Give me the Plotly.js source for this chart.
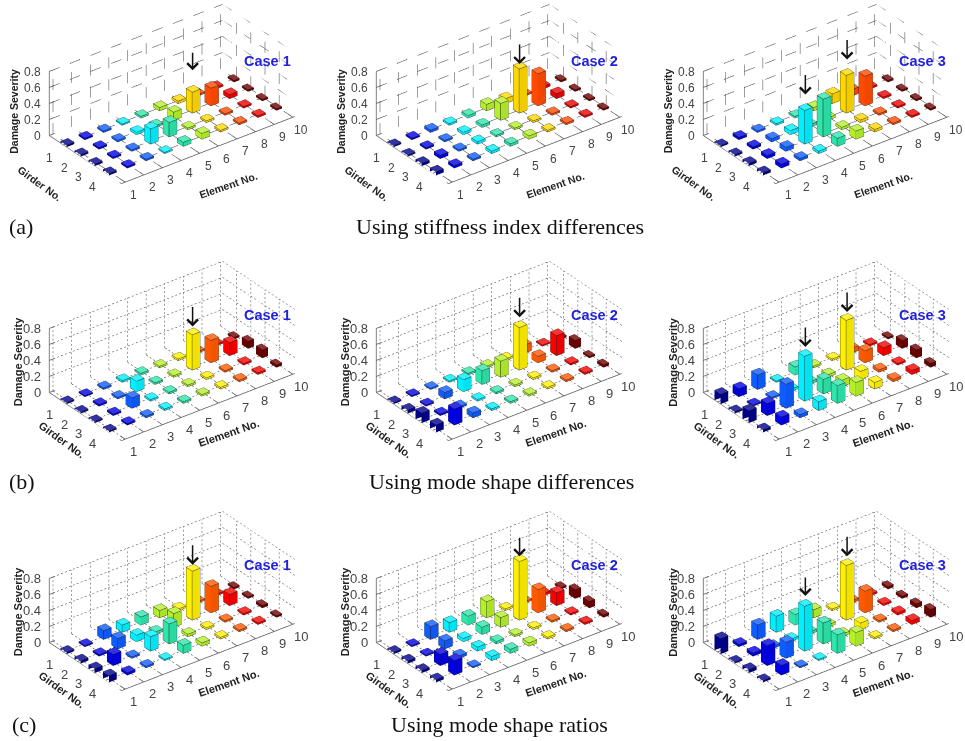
<!DOCTYPE html>
<html><head><meta charset="utf-8">
<script src="https://cdn.plot.ly/plotly-3.0.1.min.js"></script>
<style>html,body{margin:0;padding:0;background:#fff}#c{width:965px;height:741px}</style>
</head><body><div id="c"></div>
<script>
// values: one row per girder (1..4), one column per element (1..10)
const a1=[[.02,.02,.02,.015,.02,.04,.03,.02,.02,.02],[.02,.02,.02,.03,.02,.1,.26,.22,.05,.02],[.02,.02,.02,.19,.18,.02,.02,.02,.02,.02],[.02,.02,.02,.015,.05,.07,.02,.02,.02,.02]];
const a2=[[.015,.02,.03,.02,.03,.08,.06,.02,.03,.02],[.015,.02,.02,.03,.03,.21,.55,.4,.06,.02],[.03,.04,.02,.03,.02,.02,.02,.02,.02,.02],[.04,.03,.02,.03,.03,.04,.02,.02,.02,.02]];
const a3=[[.015,.03,.02,.02,.02,.04,.12,.08,.02,.02],[.02,.03,.04,.05,.03,.03,.47,.37,.02,.02],[.03,.04,.05,.42,.47,.03,.03,.02,.02,.02],[.03,.05,.03,.03,.1,.1,.03,.02,.02,.02]];
const b1=[[.015,.015,.02,.02,.02,.02,.02,.02,.02,.02],[.015,.02,.02,.13,.02,.02,.44,.28,.16,.09],[.015,.02,.13,.02,.02,.02,.02,.02,.02,.1],[.015,.02,.02,.02,.02,.02,.02,.02,.02,.03]];
const b2=[[.015,.015,.015,.015,.02,.02,.02,.1,.015,.02],[.04,.015,.08,.15,.17,.2,.53,.08,.25,.1],[.12,.02,.02,.02,.02,.02,.02,.02,.02,.02],[.09,.2,.06,.02,.02,.02,.02,.02,.02,.03]];
const b3=[[.12,.1,.18,.015,.1,.02,.02,.06,.02,.02],[.02,.015,.02,.03,.03,.03,.62,.15,.1,.1],[.15,.15,.3,.56,.18,.08,.1,.03,.02,.1],[.03,.1,.04,.11,.22,.17,.08,.03,.05,.05]];
const c1=[[.02,.015,.11,.09,.1,.09,.02,.02,.02,.02],[.03,.02,.13,.08,.03,.17,.61,.33,.14,.02],[.05,.14,.02,.18,.25,.03,.02,.02,.02,.03],[.08,.03,.02,.015,.1,.04,.02,.02,.02,.02]];
const c2=[[.02,.015,.16,.12,.11,.2,.02,.02,.03,.02],[.03,.015,.1,.04,.09,.12,.73,.29,.16,.11],[.03,.14,.03,.05,.03,.02,.02,.02,.02,.08],[.03,.18,.015,.05,.05,.04,.02,.02,.02,.03]];
const c3=[[.19,.03,.18,.2,.13,.1,.02,.03,.02,.03],[.015,.04,.03,.03,.03,.03,.68,.27,.02,.03],[.04,.25,.2,.56,.26,.03,.08,.02,.03,.05],[.02,.12,.015,.015,.23,.17,.02,.02,.05,.1]];
const panels=[a1,a2,a3,b1,b2,b3,c1,c2,c3];
const caseNames=['Case 1','Case 2','Case 3'];
const elementTicks=[1,2,3,4,5,6,7,8,9,10];
const girderTicks=[1,2,3,4];
const severityTicks=[0,0.2,0.4,0.6,0.8];
const colorsTop=['#00008c','#0000e6','#0f5cff','#00f0ff','#2ee6ac','#b4f02a','#ffd800','#ff4a00','#f00000','#700000'];
const colorsLower=['#00008c','#0000e6','#0f5cff','#00f0ff','#2ee6ac','#b4f02a','#fff000','#ff5a00','#fa0000','#700000'];
const panelColsX=[171.5,498.5,826];
const panelRowsY=[94.5,351,601];
const targets=[[[7,2,19,-38]],[[7,2,2,-23]],[[4,3,13,-34],[7,2,13,-34]],
 [[7,2,5,-26]],[[7,2,7,-28]],[[4,3,6,-27],[7,2,5,-26]],
 [[7,2,3,-24]],[[7,2,2,-22]],[[4,3,7,-27],[7,2,6,-27]]];
const captions=[['(a)',7,226,'left'],['Using stiffness index differences',500,226,'center'],['(b)',7,481,'left'],['Using mode shape differences',501,481,'center'],['(c)',10,724,'left'],['Using mode shape ratios',499,724,'center']];

const XR=[0.8,10.1],YR=[5.1,0],ZR=[0,0.8];
const W=270,H=186,R=2.4,K=1.28;
const dir=[-.522,-.685,.508];
function shade(hex,f){const n=parseInt(hex.slice(1),16);let c=[n>>16,(n>>8)&255,n&255];
  c=c.map(v=>f>=1?Math.round(v+(255-v)*(f-1)):Math.round(v*f));return `rgb(${c[0]},${c[1]},${c[2]})`;}
function bars(vals,scene,palette){
  const h=.21,x=[],y=[],z=[],i=[],j=[],k=[],fc=[],ex=[],ey=[],ez=[];
  vals.forEach((row,gi)=>row.forEach((v,ei)=>{
    const g=girderTicks[gi],e=elementTicks[ei],n=x.length,col=palette[ei];
    [[-1,-1,0],[1,-1,0],[1,1,0],[-1,1,0],[-1,-1,1],[1,-1,1],[1,1,1],[-1,1,1]].forEach(p=>{x.push(e+p[0]*h);y.push(g+p[1]*h);z.push(p[2]*v);});
    const tri=(a,b,c,cc)=>{i.push(n+a);j.push(n+b);k.push(n+c);fc.push(cc);};
    const top=shade(col,1.2),s1=shade(col,1),s2=shade(col,.94);
    tri(4,5,6,top);tri(4,6,7,top);
    tri(0,3,7,s1);tri(0,7,4,s1);tri(1,2,6,s1);tri(1,6,5,s1);
    tri(2,3,7,s2);tri(2,7,6,s2);tri(0,1,5,s2);tri(0,5,4,s2);
    [[4,5],[5,6],[6,7],[7,4],[0,4],[1,5],[2,6],[3,7],[0,1],[1,2],[2,3],[3,0]].forEach(s=>{
      ex.push(x[n+s[0]],x[n+s[1]],null);ey.push(y[n+s[0]],y[n+s[1]],null);ez.push(z[n+s[0]],z[n+s[1]],null);});
  }));
  return [{type:'mesh3d',scene,x,y,z,i,j,k,facecolor:fc,flatshading:true,hoverinfo:'skip',showscale:false,
    lighting:{ambient:1,diffuse:0,specular:0,fresnel:0,roughness:1}},
   {type:'scatter3d',mode:'lines',scene,x:ex,y:ey,z:ez,connectgaps:false,hoverinfo:'skip',showlegend:false,line:{color:'#1a1a1a',width:1}}];
}
function grid(scene,on,off,color){
  const ex=[],ey=[],ez=[];
  const seg=(p,q,px)=>{const L=on+off,n=Math.floor(px/L);for(let t=0;t<=n;t++){const a=t*L/px,b=Math.min(1,(t*L+on)/px);
    if(a>=1)break;
    ex.push(p[0]+(q[0]-p[0])*a,p[0]+(q[0]-p[0])*b,null);ey.push(p[1]+(q[1]-p[1])*a,p[1]+(q[1]-p[1])*b,null);ez.push(p[2]+(q[2]-p[2])*a,p[2]+(q[2]-p[2])*b,null);}};
  const x0=XR[0],x1=XR[1],yF=YR[0],yB=YR[1],z1=ZR[1];
  elementTicks.forEach(e=>{seg([e,yF,0],[e,yB,0],86);seg([e,yB,0],[e,yB,z1],64);});
  girderTicks.forEach(g=>{seg([x0,g,0],[x1,g,0],185);seg([x1,g,0],[x1,g,z1],64);});
  severityTicks.forEach(s=>{if(s>0){seg([x0,yB,s],[x1,yB,s],185);seg([x1,yB,s],[x1,yF,s],86);}});
  return {type:'scatter3d',mode:'lines',scene,x:ex,y:ey,z:ez,connectgaps:false,hoverinfo:'skip',showlegend:false,line:{color,width:1}};
}
function axisLines(scene){
  const ex=[],ey=[],ez=[],add=(p,q)=>{ex.push(p[0],q[0],null);ey.push(p[1],q[1],null);ez.push(p[2],q[2],null);};
  const x0=XR[0],x1=XR[1],yF=YR[0],yB=YR[1],z1=ZR[1];
  add([x0,yF,0],[x1,yF,0]);add([x0,yF,0],[x0,yB,0]);add([x0,yB,0],[x0,yB,z1]);
  elementTicks.forEach(e=>add([e,yF,0],[e,yF-.3,0]));
  girderTicks.forEach(g=>add([x0,g,0],[x0+.3,g,0]));
  severityTicks.forEach(s=>add([x0,yB,s],[x0+.3,yB,s]));
  return {type:'scatter3d',mode:'lines',scene,x:ex,y:ey,z:ez,connectgaps:false,hoverinfo:'skip',showlegend:false,line:{color:'#5a5a5a',width:1.5}};
}
const data=[],layout={width:965,height:741,margin:{l:0,r:0,t:0,b:0},paper_bgcolor:'#fff',showlegend:false,hovermode:false,annotations:[]};
panels.forEach((vals,idx)=>{
  const col=idx%3,row=Math.floor(idx/3),name=idx?'scene'+(idx+1):'scene';
  const cx=panelColsX[col],cy=panelRowsY[row],isA=row===0;
  data.push(grid(name,isA?11:2,isA?11:2.2,'#3c3c3c'));
  data.push(axisLines(name));
  bars(vals,name,isA?colorsTop:colorsLower).forEach(t=>data.push(t));
  const tf={family:'Liberation Sans',size:isA?12:13,color:'#444'};
  const tt={family:'Liberation Sans',size:isA?10.5:11,color:'#222'};
  const ann=[];
  elementTicks.forEach(e=>ann.push({x:e,y:YR[0],z:0,text:String(e),showarrow:false,xshift:9,yshift:-12,font:tf}));
  girderTicks.forEach(g=>ann.push({x:XR[0],y:g,z:0,text:String(g),showarrow:false,xshift:-13,yshift:-13,font:tf}));
  severityTicks.forEach(s=>ann.push({x:XR[0],y:YR[1],z:s,text:String(s),showarrow:false,xshift:-6,xanchor:'right',font:tf}));
  ann.push({x:5.5,y:YR[0],z:0,text:'<b>Element No.</b>',showarrow:false,xshift:20,yshift:isA?-35:-26,textangle:-19,font:tt});
  ann.push({x:XR[0],y:3,z:0,text:'<b>Girder No.</b>',showarrow:false,xshift:isA?-52:-29,yshift:-19,textangle:36,font:tt});
  ann.push({x:XR[0],y:YR[1],z:.4,text:'<b>Damage Severity</b>',showarrow:false,xshift:isA?-35:-30,yshift:isA?-7:-1,textangle:-90,font:tt});
  targets[idx].forEach(t=>ann.push({x:t[0],y:t[1],z:vals[t[1]-1][t[0]-1],text:'',showarrow:true,ax:0,ay:t[3],standoff:t[2],arrowhead:4,arrowsize:1.4,arrowwidth:1.5,arrowcolor:'#111'}));
  const axis=(range,tickvals)=>({range,tickmode:'array',tickvals,ticks:'',showticklabels:false,title:{text:''},
    showgrid:false,zeroline:false,showbackground:false,showline:false,showspikes:false});
  layout[name]={domain:{x:[(cx-W/2)/965,(cx+W/2)/965],y:[1-(cy+H/2)/741,1-(cy-H/2)/741]},
    aspectmode:'manual',aspectratio:{x:1.83*K,y:1*K,z:.625*K},
    camera:{projection:{type:'orthographic'},eye:{x:dir[0]*R,y:dir[1]*R,z:dir[2]*R},up:{x:0,y:0,z:1},center:{x:0,y:0,z:0}},
    xaxis:axis(XR,elementTicks),yaxis:axis(YR,girderTicks),zaxis:axis(ZR,severityTicks),annotations:ann,bgcolor:'#fff'};
  layout.annotations.push({xref:'paper',yref:'paper',x:(cx+96)/965,y:1-(cy+(row?-36:-34))/741,xanchor:'center',yanchor:'middle',text:'<b>'+caseNames[col]+'</b>',showarrow:false,font:{family:'Liberation Sans',size:14.5,color:'#2222dd'}});
});
captions.forEach(c=>layout.annotations.push({xref:'paper',yref:'paper',x:c[1]/965,y:1-c[2]/741,xanchor:c[3],yanchor:'middle',text:c[0],showarrow:false,font:{family:'Liberation Serif',size:22,color:'#111'}}));
Plotly.newPlot('c',data,layout,{displayModeBar:false});
</script></body></html>
